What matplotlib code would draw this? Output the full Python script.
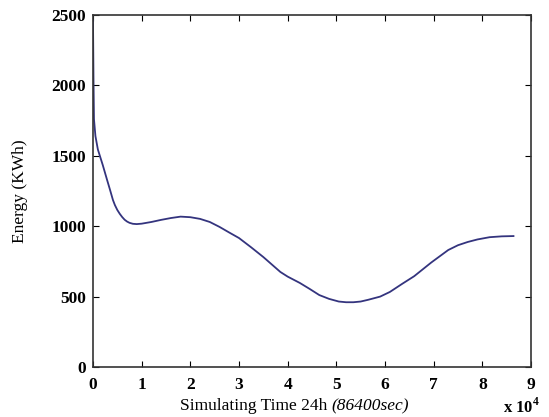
import matplotlib
matplotlib.use("Agg")
import matplotlib.pyplot as plt
from matplotlib.text import Annotation

# Data (time in units of 1e4 s, energy in KWh)
time_e4 = [0, 0.01, 0.02, 0.05, 0.1, 0.15, 0.2, 0.29, 0.35, 0.41, 0.45, 0.5, 0.55,
           0.6, 0.65, 0.7, 0.75, 0.82, 0.9, 1.0, 1.2, 1.4, 1.6, 1.8, 2.0, 2.2,
           2.4, 2.6, 2.8, 3.0, 3.25, 3.5, 3.85, 4.0, 4.25, 4.45, 4.65, 4.85,
           5.05, 5.2, 5.35, 5.5, 5.65, 5.9, 6.1, 6.35, 6.6, 6.95, 7.3, 7.5,
           7.7, 7.9, 8.15, 8.4, 8.64]
energy = [2460, 2050, 1760, 1640, 1545, 1490, 1435, 1328, 1258, 1186, 1150, 1115,
          1088, 1065, 1046, 1033, 1024, 1017, 1015, 1018, 1030, 1045, 1058, 1068,
          1064, 1052, 1030, 995, 955, 916, 850, 781, 675, 642, 597, 555, 511,
          484, 465, 460, 460, 465, 477, 500, 533, 590, 645, 742, 831, 865, 888,
          906, 922, 928, 930]
xticks = [0, 1, 2, 3, 4, 5, 6, 7, 8, 9]
yticks = [0, 500, 1000, 1500, 2000, 2500]

plt.rcParams['font.family'] = ['Liberation Serif', 'DejaVu Serif']
plt.rcParams['mathtext.fontset'] = 'custom'
plt.rcParams['mathtext.rm'] = 'Liberation Serif'
plt.rcParams['mathtext.bf'] = 'Liberation Serif:bold'

fig = plt.figure(figsize=(5.49, 4.17), dpi=100)
ax = fig.add_axes([0.1694, 0.1199, 0.7978, 0.8441])
ax.plot(time_e4, energy, color='#34347e', lw=1.3)
ax.set_xlim(0, 9)
ax.set_ylim(0, 2500)
ax.set_xticks(xticks)
ax.set_yticks(yticks)
ax.set_xticklabels([str(t) for t in xticks], fontweight='bold', fontsize=12.5)
ax.set_yticklabels([str(t) for t in yticks], fontweight='bold', fontsize=12.5)
ax.tick_params(axis='x', direction='in', top=True, length=4, width=0.8, pad=7)
ax.tick_params(axis='y', direction='in', right=True, length=4, width=0.8, pad=5)
for s in ax.spines.values():
    s.set_linewidth(1.2)
    s.set_color('#333333')

ax.set_ylabel('Energy (KWh)', fontsize=12.5, labelpad=17)
t1 = fig.text(180 / 549, 1 - 406 / 417, 'Simulating Time 24h ', ha='left',
              va='center', fontsize=12.5)
fig.add_artist(Annotation('(86400sec)', xy=(1, 0.5), xycoords=t1, ha='left',
                          va='center', fontsize=12.5, style='italic'))
fig.text(521 / 549, 1 - 407 / 417, r'x 10$^{\mathbf{4}}$', ha='center', va='center',
         fontsize=12, fontweight='bold')

fig.savefig('out.png', dpi=100)
